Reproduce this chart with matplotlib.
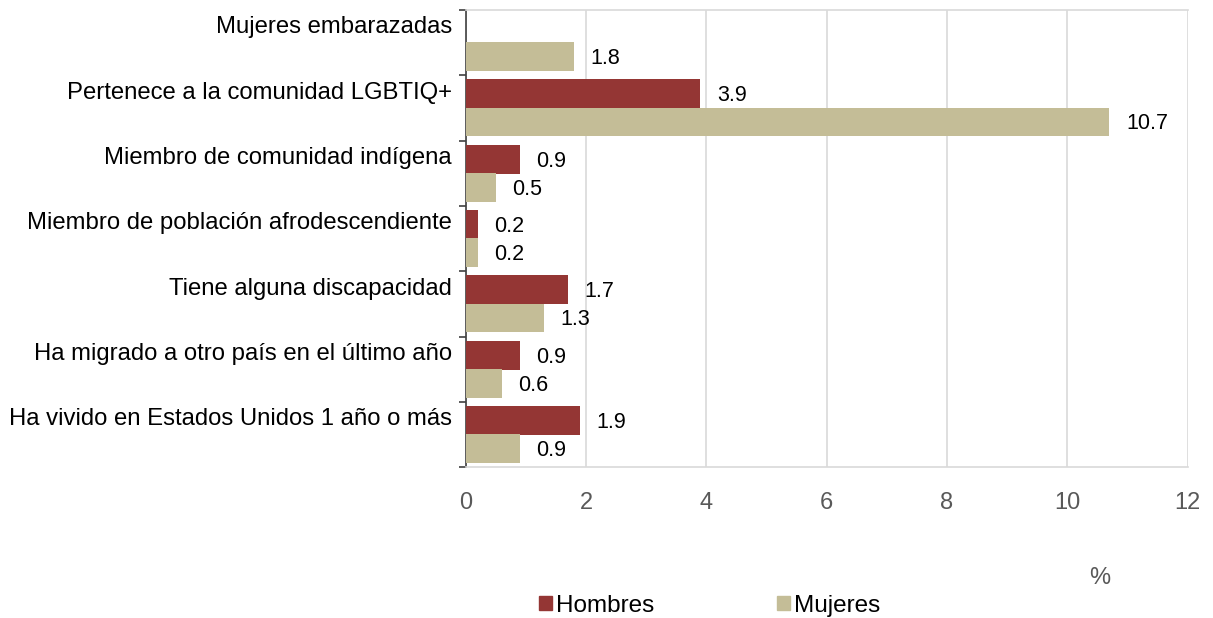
import matplotlib.pyplot as plt
import numpy as np

categories = [
    "Mujeres embarazadas",
    "Pertenece a la comunidad LGBTIQ+",
    "Miembro de comunidad indígena",
    "Miembro de población afrodescendiente",
    "Tiene alguna discapacidad",
    "Ha migrado a otro país en el último año",
    "Ha vivido en Estados Unidos 1 año o más",
]
hombres = [None, 3.9, 0.9, 0.2, 1.7, 0.9, 1.9]
mujeres = [1.8, 10.7, 0.5, 0.2, 1.3, 0.6, 0.9]
x_ticks = [0, 2, 4, 6, 8, 10, 12]

C_H = "#943634"
C_M = "#C4BD97"

plt.rcParams["font.family"] = ["Liberation Sans", "DejaVu Sans"]

fig = plt.figure(figsize=(12.13, 6.18), dpi=100)
ax = fig.add_axes([0.384, 0.244, 0.595, 0.740])

y = np.arange(len(categories))
h = 0.44
off = 0.215

for i, (vh, vm) in enumerate(zip(hombres, mujeres)):
    if vh is not None:
        ax.barh(i - off, vh, height=h, color=C_H, zorder=3)
        ax.annotate(f"{vh:.1f}", (vh, i - off + 0.03), xytext=(12, 0),
                    textcoords="offset points", va="center", ha="left",
                    fontsize=15.5)
    ax.barh(i + off, vm, height=h, color=C_M, zorder=3)
    ax.annotate(f"{vm:.1f}", (vm, i + off + 0.03), xytext=(12, 0),
                textcoords="offset points", va="center", ha="left",
                fontsize=15.5)

ax.set_xlim(0, 12)
ax.set_ylim(len(categories) - 0.5, -0.5)
ax.set_xticks(x_ticks)
ax.set_xticklabels([str(t) for t in x_ticks], color="#595959", fontsize=17)
ax.tick_params(axis="x", length=0, pad=18)

ax.set_yticks(y - 0.27)
ax.set_yticklabels(categories, fontsize=17.2)
ax.tick_params(axis="y", which="major", length=0, pad=10)
ax.set_yticks(np.arange(-0.5, len(categories), 1.0), minor=True)
ax.tick_params(axis="y", which="minor", length=5, width=1.2, color="#404040")

ax.grid(axis="x", color="#D9D9D9", linewidth=1.2, zorder=0)
ax.spines["left"].set_color("#404040")
ax.spines["left"].set_linewidth(1.2)
for s in ("top", "bottom"):
    ax.spines[s].set_color("#D9D9D9")
    ax.spines[s].set_linewidth(1.2)
ax.spines["right"].set_visible(False)

fig.text(1100 / 1213, 1 - 578 / 618, "%", color="#595959", fontsize=17,
         ha="center", va="center")

handles = [plt.Rectangle((0, 0), 1, 1, color=C_H),
           plt.Rectangle((0, 0), 1, 1, color=C_M)]
fig.legend(handles, ["Hombres", "Mujeres"], loc="center",
           bbox_to_anchor=(0.585, 0.02), ncol=2, frameon=False,
           fontsize=17.5, handlelength=0.55, handleheight=0.55,
           handletextpad=0.15, columnspacing=5.05)

fig.savefig("out.png", dpi=100)
